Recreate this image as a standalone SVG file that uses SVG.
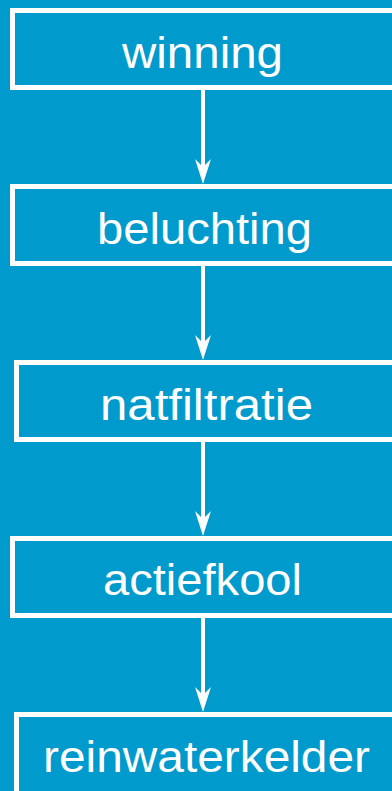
<svg xmlns="http://www.w3.org/2000/svg" width="392" height="791" viewBox="0 0 392 791">
<style>
.box{fill:none;stroke:#ffffff;stroke-width:5}
.lbl{fill:#ffffff;font-family:"Liberation Sans",Arial,sans-serif;font-size:44px;text-anchor:middle}
.edge{stroke:#ffffff;stroke-width:4;fill:none}
</style>
<defs>
<marker id="arr" markerUnits="userSpaceOnUse" markerWidth="26" markerHeight="18" viewBox="0 -9 26 18" refX="8" refY="0" orient="auto">
<path d="M25,0 L0,-8 L8,0 L0,8 Z" fill="#ffffff"/>
</marker>
</defs>
<rect x="0" y="0" width="392" height="791" fill="#009ACD"/>
<g id="connectors">
<line class="edge" x1="203" y1="90" x2="203" y2="167" marker-end="url(#arr)"/>
<line class="edge" x1="203" y1="266" x2="203" y2="343" marker-end="url(#arr)"/>
<line class="edge" x1="203" y1="442" x2="203" y2="519" marker-end="url(#arr)"/>
<line class="edge" x1="203" y1="618" x2="203" y2="695" marker-end="url(#arr)"/>
</g>
<g id="winning">
<rect class="box" x="12.5" y="10.5" width="382" height="77"/>
<text class="lbl" x="202.5" y="68" textLength="161" lengthAdjust="spacingAndGlyphs">winning</text>
</g>
<g id="beluchting">
<rect class="box" x="12.5" y="186.5" width="382" height="77"/>
<text class="lbl" x="204.5" y="244" textLength="215" lengthAdjust="spacingAndGlyphs">beluchting</text>
</g>
<g id="natfiltratie">
<rect class="box" x="16.5" y="362.5" width="378" height="77"/>
<text class="lbl" x="206.5" y="420" textLength="213" lengthAdjust="spacingAndGlyphs">natfiltratie</text>
</g>
<g id="actiefkool">
<rect class="box" x="12.5" y="538.5" width="382" height="77"/>
<text class="lbl" x="202.5" y="595" textLength="199" lengthAdjust="spacingAndGlyphs">actiefkool</text>
</g>
<g id="reinwaterkelder">
<rect class="box" x="16.5" y="714.5" width="378" height="90"/>
<text class="lbl" x="206.5" y="772" textLength="327" lengthAdjust="spacingAndGlyphs">reinwaterkelder</text>
</g>
</svg>
